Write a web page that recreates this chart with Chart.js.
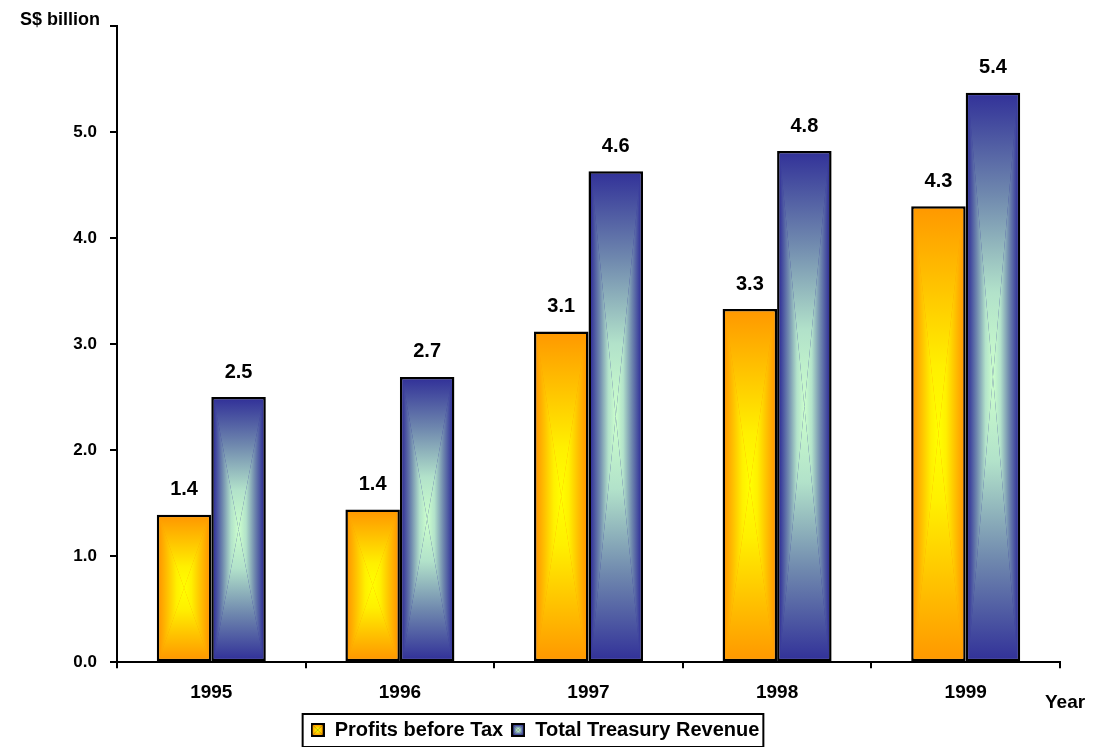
<!DOCTYPE html>
<html>
<head>
<meta charset="utf-8">
<script src="https://cdn.jsdelivr.net/npm/chart.js@4.4.1/dist/chart.umd.min.js"></script>
<style>
  html, body { margin: 0; padding: 0; background: #fff; }
  canvas { display: block; }
</style>
</head>
<body>
<canvas id="chart" width="1093" height="747"></canvas>
<script>
const years = ['1995', '1996', '1997', '1998', '1999'];
const profitsBeforeTax = [1.39, 1.44, 3.12, 3.33, 4.30];
const treasuryRevenue = [2.50, 2.69, 4.63, 4.82, 5.37];
const seriesNames = ['Profits before Tax', 'Total Treasury Revenue'];
const yMax = 6;

const FONT = "'Liberation Sans', Arial, sans-serif";
// "from centre" fills: colour stops running from the middle of a bar out to its edges
const FILLS = [
  { edge: '#FF9900', stops: [[0, '#FFFF00'], [0.3, '#FFF000'], [0.65, '#FFC400'], [1, '#FF9900']] },
  { edge: '#333399', stops: [[0, '#CCFFCC'], [0.3, '#B2E2CA'], [0.65, '#6F88AE'], [1, '#333399']] },
];
const BW = 2.5;

// paint a rectangle with a gradient running from its centre out to every edge
function centreFill(ctx, l, t, r, b, f) {
  const cx = (l + r) / 2, cy = (t + b) / 2;
  const tri = (pts, x0, y0, x1, y1) => {
    const g = ctx.createLinearGradient(x0, y0, x1, y1);
    f.stops.forEach(([o, c]) => g.addColorStop(o, c));
    ctx.fillStyle = g;
    ctx.beginPath();
    ctx.moveTo(pts[0][0], pts[0][1]);
    ctx.lineTo(pts[1][0], pts[1][1]);
    ctx.lineTo(pts[2][0], pts[2][1]);
    ctx.closePath();
    ctx.fill();
  };
  ctx.save();
  ctx.beginPath();
  ctx.rect(l, t, r - l, b - t);
  ctx.clip();
  tri([[l, t], [cx, cy], [l, b]], cx, 0, l, 0);
  tri([[r, t], [cx, cy], [r, b]], cx, 0, r, 0);
  tri([[l, t], [cx, cy], [r, t]], 0, cy, 0, t);
  tri([[l, b], [cx, cy], [r, b]], 0, cy, 0, b);
  ctx.restore();
}

function swatch(f) {
  const c = document.createElement('canvas');
  c.width = 14; c.height = 14;
  const x = c.getContext('2d');
  x.fillStyle = '#000';
  x.fillRect(0, 0, 14, 14);
  centreFill(x, 2, 2, 12, 12, f);
  return c;
}
const swatches = FILLS.map(swatch);

const barFill = {
  id: 'barFill',
  afterDatasetsDraw(chart) {
    const ctx = chart.ctx;
    chart.data.datasets.forEach((ds, i) => {
      chart.getDatasetMeta(i).data.forEach((el, j) => {
        const { x, y, base, width } = el.getProps(['x', 'y', 'base', 'width'], true);
        centreFill(ctx, x - width / 2 + BW, y + BW, x + width / 2 - BW, base - BW, FILLS[i]);
        ctx.save();
        ctx.fillStyle = '#000';
        ctx.font = 'bold 20px ' + FONT;
        ctx.textAlign = 'center';
        ctx.textBaseline = 'middle';
        ctx.fillText(ds.data[j].toFixed(1), x, y - 25);
        ctx.restore();
      });
    });
  },
  afterDraw(chart) {
    const ctx = chart.ctx;
    const a = chart.chartArea;
    ctx.save();
    ctx.fillStyle = '#000';
    ctx.font = 'bold 18px ' + FONT;
    ctx.textAlign = 'right';
    ctx.textBaseline = 'middle';
    ctx.fillText('S$ billion', a.left - 17, 20);
    ctx.font = 'bold 19px ' + FONT;
    ctx.textAlign = 'left';
    ctx.fillText('Year', a.right - 15, 703);
    // frame round the legend
    const boxes = chart.legend.legendHitBoxes;
    if (boxes && boxes.length) {
      const l = Math.min(...boxes.map(b => b.left)) - 8;
      const r = Math.max(...boxes.map(b => b.left + b.width)) + 4;
      const mid = boxes[0].top + boxes[0].height / 2;
      ctx.strokeStyle = '#000';
      ctx.lineWidth = 2;
      ctx.strokeRect(l, mid - 16, r - l, 33);
    }
    ctx.restore();
  },
};

new Chart(document.getElementById('chart'), {
  type: 'bar',
  data: {
    labels: years,
    datasets: [
      { label: seriesNames[0], data: profitsBeforeTax, backgroundColor: FILLS[0].edge },
      { label: seriesNames[1], data: treasuryRevenue, backgroundColor: FILLS[1].edge },
    ],
  },
  options: {
    responsive: false,
    animation: false,
    layout: { padding: { top: 26, right: 33, bottom: -3, left: 10 } },
    datasets: {
      bar: {
        borderColor: '#000', borderWidth: BW, borderSkipped: false,
        categoryPercentage: 0.578, barPercentage: 1.0,
      },
    },
    scales: {
      x: {
        afterFit: scale => { scale.height -= 5; },
        grid: { offset: true, drawOnChartArea: false, color: '#000', lineWidth: 2, tickLength: 6 },
        border: { color: '#000', width: 2 },
        ticks: { color: '#000', font: { family: FONT, size: 19, weight: 'bold' }, padding: 13 },
      },
      y: {
        min: 0, max: yMax,
        afterFit: scale => { scale.width = 107; },
        grid: { drawOnChartArea: false, color: '#000', lineWidth: 2, tickLength: 7 },
        border: { color: '#000', width: 2 },
        ticks: {
          stepSize: 1, color: '#000', padding: 13,
          font: { family: FONT, size: 17, weight: 'bold' },
          callback: v => (v === yMax ? '' : v.toFixed(1)),
        },
      },
    },
    plugins: {
      tooltip: { enabled: false },
      legend: {
        position: 'bottom',
        labels: {
          color: '#000', usePointStyle: true, boxWidth: 14, boxHeight: 14, padding: 8,
          font: { family: FONT, size: 20, weight: 'bold' },
          generateLabels: chart => chart.data.datasets.map((ds, i) => ({
            text: ds.label, pointStyle: swatches[i], fillStyle: FILLS[i].edge,
            strokeStyle: '#000', lineWidth: 0, hidden: false, datasetIndex: i, fontColor: '#000',
          })),
        },
      },
    },
  },
  plugins: [barFill],
});
</script>
</body>
</html>
